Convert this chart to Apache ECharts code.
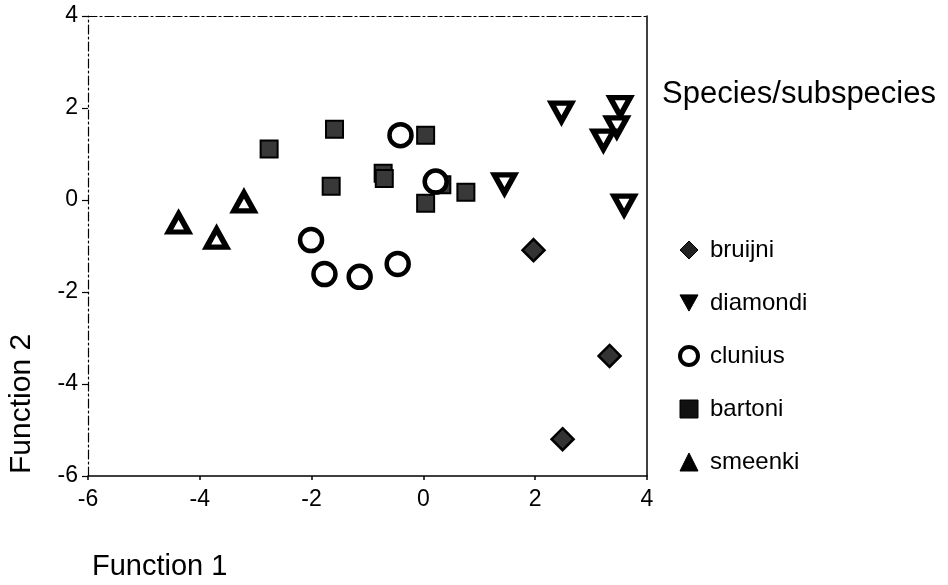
<!DOCTYPE html>
<html>
<head>
<meta charset="utf-8">
<script src="https://cdn.jsdelivr.net/npm/echarts@6/dist/echarts.min.js"></script>
<style>
html,body{margin:0;padding:0;background:#fff;}
#c{width:948px;height:585px;}
</style>
</head>
<body>
<div id="c"></div>
<script>
var speciesNames = ['bruijni', 'diamondi', 'clunius', 'bartoni', 'smeenki'];
var bruijni = [[1.97, -1.09], [3.33, -3.39], [2.49, -5.20]];
var diamondi = [[2.47, 1.91], [3.52, 2.03], [3.46, 1.59], [3.22, 1.30], [1.45, 0.35], [3.59, -0.11]];
var clunius = [[-2.01, -0.87], [-1.77, -1.61], [-1.14, -1.67], [-0.46, -1.39], [-0.41, 1.41], [0.22, 0.40]];
var bartoni = [[-2.76, 1.11], [-1.59, 1.54], [-1.65, 0.30], [-0.72, 0.58], [-0.70, 0.47], [0.04, 1.41], [0.33, 0.33], [0.04, -0.07], [0.76, 0.17]];
var smeenki = [[-4.38, -0.50], [-3.70, -0.83], [-3.21, -0.04]];
var xTicks = [-6, -4, -2, 0, 2, 4];
var yTicks = [-6, -4, -2, 0, 2, 4];

var FONT = 'Liberation Sans, Arial, sans-serif';
var downTri = 'path://M0,0 L20,0 L10,18 Z';
var dashDot = [9, 3, 2, 3];

var chart = echarts.init(document.getElementById('c'));
chart.setOption({
  animation: false,
  backgroundColor: '#fff',
  grid: { left: 88, right: 301, top: 16, bottom: 109, containLabel: false },
  xAxis: [{
    type: 'value', min: xTicks[0], max: xTicks[xTicks.length - 1], interval: 2,
    axisLine: { show: true, onZero: false, lineStyle: { color: '#000', width: 1.5 } },
    axisTick: { show: true, inside: false, length: 4, lineStyle: { color: '#000', width: 1.5 } },
    axisLabel: { color: '#000', fontFamily: FONT, fontSize: 23, margin: 12 },
    splitLine: { show: false }
  }, {
    type: 'value', position: 'top', min: xTicks[0], max: xTicks[xTicks.length - 1],
    axisLine: { show: true, onZero: false, lineStyle: { color: '#000', width: 1.2, type: dashDot } },
    axisTick: { show: false }, axisLabel: { show: false }, splitLine: { show: false }
  }],
  yAxis: [{
    type: 'value', min: yTicks[0], max: yTicks[yTicks.length - 1], interval: 2,
    axisLine: { show: true, onZero: false, lineStyle: { color: '#000', width: 1.2, type: dashDot } },
    axisTick: { show: true, inside: false, length: 6, lineStyle: { color: '#000', width: 1.2 } },
    axisLabel: { color: '#000', fontFamily: FONT, fontSize: 23, margin: 10 },
    splitLine: { show: false }
  }, {
    type: 'value', position: 'right', min: yTicks[0], max: yTicks[yTicks.length - 1],
    axisLine: { show: true, onZero: false, lineStyle: { color: '#000', width: 1.5 } },
    axisTick: { show: false }, axisLabel: { show: false }, splitLine: { show: false }
  }],
  legend: {
    orient: 'vertical', left: 673, top: 233,
    itemWidth: 18, itemHeight: 18, itemGap: 29,
    textStyle: { color: '#000', fontFamily: FONT, fontSize: 24, lineHeight: 24, padding: [0, 0, 0, 7] },
    data: [
      { name: speciesNames[0], icon: 'diamond', itemStyle: { color: '#222', borderColor: '#000', borderWidth: 1 } },
      { name: speciesNames[1], icon: downTri, itemStyle: { color: '#000', borderColor: '#000', borderWidth: 1 } },
      { name: speciesNames[2], icon: 'circle', itemStyle: { color: '#fff', borderColor: '#000', borderWidth: 4 } },
      { name: speciesNames[3], icon: 'rect', itemStyle: { color: '#111', borderColor: '#000', borderWidth: 1 } },
      { name: speciesNames[4], icon: 'triangle', itemStyle: { color: '#000', borderColor: '#000', borderWidth: 1 } }
    ]
  },
  graphic: [
    { type: 'text', left: 662, top: 79, style: { text: 'Species/subspecies', font: '31px ' + FONT, fill: '#000' } },
    { type: 'text', left: 92, top: 552, style: { text: 'Function 1', font: '29px ' + FONT, fill: '#000' } },
    { type: 'text', x: 7, y: 474, rotation: Math.PI / 2, style: { text: 'Function 2', font: '30px ' + FONT, fill: '#000', textVerticalAlign: 'top' } }
  ],
  series: [
    { name: speciesNames[0], type: 'scatter', data: bruijni, symbol: 'diamond', symbolSize: 22,
      itemStyle: { color: '#333', borderColor: '#000', borderWidth: 2.5, opacity: 1 } },
    { name: speciesNames[1], type: 'scatter', data: diamondi, symbol: downTri, symbolSize: [20, 18],
      itemStyle: { color: '#fff', borderColor: '#000', borderWidth: 5.5, opacity: 1 } },
    { name: speciesNames[3], type: 'scatter', data: bartoni, symbol: 'rect', symbolSize: 17,
      itemStyle: { color: '#383838', borderColor: '#000', borderWidth: 2, opacity: 1 } },
    { name: speciesNames[2], type: 'scatter', data: clunius, symbol: 'circle', symbolSize: 22,
      itemStyle: { color: '#fff', borderColor: '#000', borderWidth: 4.5, opacity: 1 } },
    { name: speciesNames[4], type: 'scatter', data: smeenki, symbol: 'triangle', symbolSize: [20, 18],
      itemStyle: { color: '#fff', borderColor: '#000', borderWidth: 5.5, opacity: 1 } }
  ]
});
</script>
</body>
</html>
